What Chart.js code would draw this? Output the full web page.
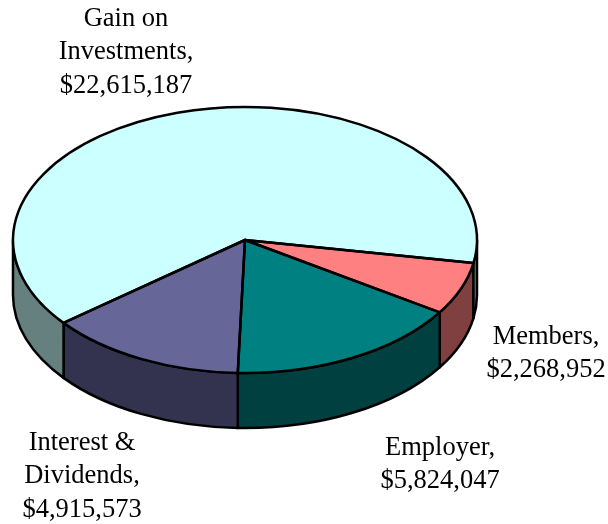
<!DOCTYPE html>
<html>
<head>
<meta charset="utf-8">
<style>html,body{margin:0;padding:0;background:#fff}canvas{display:block}</style>
<script src="https://cdn.jsdelivr.net/npm/chart.js@4/dist/chart.umd.min.js"></script>
</head>
<body>
<canvas id="c" width="608" height="524"></canvas>
<script>
const categories = ["Members", "Employer", "Interest & Dividends", "Gain on Investments"];
const values = [2268952, 5824047, 4915573, 22615187];
const topColors = ["#FF8080", "#008080", "#666699", "#CCFFFF"];
const sideColors = ["#804040", "#004040", "#333350", "#668080"];
const labelLines = [
  ["Members,", "$2,268,952"],
  ["Employer,", "$5,824,047"],
  ["Interest &", "Dividends,", "$4,915,573"],
  ["Gain on", "Investments,", "$22,615,187"]
];
const labelCenters = [[546, 344], [440, 455], [82, 450], [126, 26]];
const lineStep = 33.4;
const yScale = 133 / 232;
const depth = 55;
const lineW = 2.5;

function ellipseOf(chart) {
  const a = chart.getDatasetMeta(0).data[0];
  const rx = a.outerRadius;
  return { cx: a.x, cy: a.y, rx, ry: rx * yScale };
}

const pie3d = {
  id: "pie3d",
  beforeDatasetsDraw(chart) {
    const ctx = chart.ctx, e = ellipseOf(chart);
    const arcs = chart.getDatasetMeta(0).data;
    ctx.save();
    ctx.strokeStyle = "#000";
    ctx.lineWidth = lineW;
    ctx.lineJoin = "round";
    arcs.forEach((arc, i) => {
      const tau = Math.PI * 2;
      for (let k = -1; k <= 1; k++) {
        const s = Math.max(arc.startAngle + k * tau, 0);
        const t = Math.min(arc.endAngle + k * tau, Math.PI);
        if (t <= s) continue;
        ctx.beginPath();
        ctx.ellipse(e.cx, e.cy + depth, e.rx, e.ry, 0, s, t);
        ctx.ellipse(e.cx, e.cy, e.rx, e.ry, 0, t, s, true);
        ctx.closePath();
        ctx.fillStyle = sideColors[i];
        ctx.fill();
        ctx.stroke();
      }
    });
    ctx.restore();
    ctx.save();
    ctx.translate(e.cx, e.cy);
    ctx.scale(1, yScale);
    ctx.translate(-e.cx, -e.cy);
  },
  afterDatasetsDraw(chart) {
    const ctx = chart.ctx;
    ctx.restore();
    const e = ellipseOf(chart);
    const arcs = chart.getDatasetMeta(0).data;
    ctx.save();
    ctx.strokeStyle = "#000";
    ctx.lineWidth = lineW;
    ctx.lineJoin = "round";
    arcs.forEach(arc => {
      ctx.beginPath();
      ctx.moveTo(e.cx, e.cy);
      ctx.ellipse(e.cx, e.cy, e.rx, e.ry, 0, arc.startAngle, arc.endAngle);
      ctx.closePath();
      ctx.stroke();
    });
    ctx.fillStyle = "#000";
    ctx.font = "26.5px 'Liberation Serif'";
    ctx.textAlign = "center";
    ctx.textBaseline = "alphabetic";
    labelLines.forEach((lines, i) => {
      lines.forEach((line, j) => {
        ctx.fillText(line, labelCenters[i][0], labelCenters[i][1] + j * lineStep);
      });
    });
    ctx.restore();
  }
};

new Chart(document.getElementById("c"), {
  type: "pie",
  data: {
    labels: categories,
    datasets: [{ data: values, backgroundColor: topColors, borderWidth: 0 }]
  },
  options: {
    responsive: false,
    animation: false,
    rotation: 100,
    layout: { padding: { left: 13, right: 131, top: 8, bottom: 52 } },
    plugins: { legend: { display: false }, tooltip: { enabled: false }, title: { display: false } }
  },
  plugins: [pie3d]
});
</script>
</body>
</html>
